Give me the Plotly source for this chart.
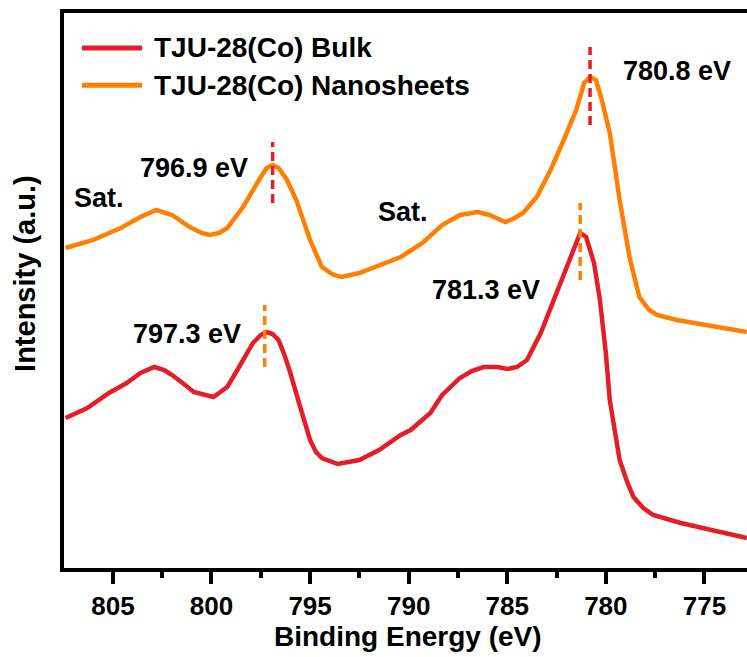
import plotly.graph_objects as go

# ---- data (binding energy in eV, intensity in arbitrary units) ----
bulk_ev = [807.4, 806.3, 805.2, 804.3, 803.6, 802.9, 802.4, 802.0, 801.4, 800.9, 799.9, 799.2,
           798.6, 797.9, 797.5, 797.2, 796.9, 796.6, 796.3, 796.0, 795.5, 795.0, 794.7, 794.4,
           793.6, 792.5, 791.5, 790.4, 789.9, 788.9, 788.3, 787.4, 786.8, 786.2, 785.5, 785.0,
           784.5, 784.0, 783.3, 782.7, 782.0, 781.6, 781.3, 781.0, 780.6, 780.3, 780.0, 779.8,
           779.3, 778.9, 778.6, 778.1, 777.6, 776.2, 774.7, 772.85]
bulk_int = [150, 160, 175, 185, 195, 201, 198, 193, 184, 176, 171, 181,
            201, 225, 233, 236, 234, 228, 213, 195, 161, 128, 116, 110,
            104, 108, 118, 133, 138, 155, 173, 190, 197, 201, 201, 199,
            201, 208, 235, 265, 301, 322, 335, 331, 305, 268, 215, 168,
            108, 85, 71, 60, 53, 45, 38, 30]

nano_ev = [807.4, 806.0, 804.6, 803.6, 802.8, 802.0, 801.1, 800.5, 800.1, 799.6, 799.2, 798.4,
           797.5, 797.2, 796.9, 796.6, 796.2, 795.7, 795.0, 794.4, 793.8, 793.4, 792.5, 791.5,
           790.4, 789.3, 788.3, 787.4, 786.5, 785.9, 785.1, 784.7, 784.2, 783.5, 782.8, 782.2,
           781.5, 781.1, 780.8, 780.5, 780.2, 779.8, 779.3, 778.8, 778.3, 777.8, 777.4, 776.4,
           774.9, 772.85]
nano_int = [320, 328, 340, 351, 358, 353, 341, 335, 333, 335, 340, 361,
            391, 400, 403, 400, 389, 368, 328, 301, 293, 291, 295, 303,
            311, 325, 343, 353, 356, 353, 346, 349, 355, 371, 398, 425,
            458, 485, 491, 488, 468, 435, 368, 311, 271, 258, 253, 248,
            243, 236]

series_names = ["TJU-28(Co) Bulk", "TJU-28(Co) Nanosheets"]
red = "#E41E26"
orange = "#FF8000"

# peak marker positions (eV) and their vertical extents
peak_marks = [
    (796.9, 365, 426, red),
    (797.3, 201, 263, orange),
    (780.8, 443, 521, red),
    (781.3, 288, 365, orange),
]
labels = [
    ("796.9 eV", 800.9, 400),
    ("797.3 eV", 801.25, 234),
    ("780.8 eV", 776.4, 497),
    ("781.3 eV", 786.1, 278),
    ("Sat.", 805.7, 370),
    ("Sat.", 790.3, 356),
]

FONT = "Liberation Sans"

fig = go.Figure()
fig.add_trace(go.Scatter(x=bulk_ev, y=bulk_int, mode="lines", name=series_names[0],
                         line=dict(color=red, width=4.5), showlegend=False))
fig.add_trace(go.Scatter(x=nano_ev, y=nano_int, mode="lines", name=series_names[1],
                         line=dict(color=orange, width=4.5), showlegend=False))
for ev, y0, y1, c in peak_marks:
    fig.add_trace(go.Scatter(x=[ev, ev], y=[y0, y1], mode="lines", showlegend=False,
                             line=dict(color=c, width=3.5, dash="9px,5px")))

for txt, ev, y in labels:
    fig.add_annotation(x=ev, y=y, text=txt, showarrow=False, xanchor="center", yanchor="middle",
                       font=dict(family=FONT, size=27, color="black", weight="bold"))

# manual legend
leg_y = [0.937, 0.870]
for name, c, yy in zip(series_names, [red, orange], leg_y):
    fig.add_shape(type="line", xref="paper", yref="paper", x0=0.0264, x1=0.1142, y0=yy, y1=yy,
                  line=dict(color=c, width=5))
    fig.add_annotation(xref="paper", yref="paper", x=0.1288, y=yy, text=name, showarrow=False,
                       xanchor="left", yanchor="middle",
                       font=dict(family=FONT, size=28, color="black", weight="bold"))

# axis titles
fig.add_annotation(xref="paper", yref="paper", x=0.5037, y=-0.124, text="Binding Energy (eV)",
                   showarrow=False, xanchor="center", yanchor="middle",
                   font=dict(family=FONT, size=28, color="black", weight="bold"))
fig.add_annotation(xref="paper", yref="paper", x=-0.057, y=0.53, text="Intensity (a.u.)",
                   showarrow=False, textangle=-90, xanchor="center", yanchor="middle",
                   font=dict(family=FONT, size=29, color="black", weight="bold"))

fig.update_layout(
    width=747, height=657,
    margin=dict(l=64, r=0, t=13, b=89),
    paper_bgcolor="white", plot_bgcolor="white",
    xaxis=dict(range=[807.48, 772.84], tickmode="array", tickvals=[805, 800, 795, 790, 785, 780, 775],
               ticks="outside", ticklen=12, tickwidth=4, tickcolor="black",
               showline=True, linewidth=4, linecolor="black", mirror=True,
               showgrid=False, zeroline=False,
               minor=dict(tickmode="array", tickvals=[802.5, 797.5, 792.5, 787.5, 782.5, 777.5, 772.5],
                          ticks="outside", ticklen=6, tickwidth=4, tickcolor="black"),
               tickfont=dict(family=FONT, size=26, color="black", weight="bold")),
    yaxis=dict(range=[0, 555], showticklabels=False, ticks="", showgrid=False, zeroline=False,
               showline=True, linewidth=4, linecolor="black", mirror=False),
)

fig.write_html("out.html")
